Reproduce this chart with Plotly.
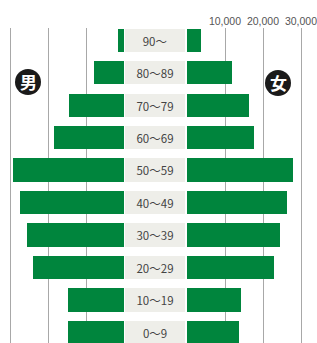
import plotly.graph_objects as go

ages = ["0～9", "10～19", "20～29", "30～39", "40～49", "50～59", "60～69", "70～79", "80～89", "90～"]
male = [14700, 14800, 23900, 25400, 27500, 29300, 18400, 14400, 7800, 1600]
female = [13700, 14100, 23000, 24600, 26200, 28000, 17600, 16400, 11800, 3800]
tick_vals = [10000, 20000, 30000]
tick_text = ["10,000", "20,000", "30,000"]

W, H = 317, 343
PX_PER = 38 / 10000
idx = list(range(len(ages)))
green = "#00853d"

fig = go.Figure()
fig.add_trace(go.Bar(y=idx, x=male, orientation="h", xaxis="x", yaxis="y",
                     marker=dict(color=green, line=dict(width=0)), width=0.72,
                     hoverinfo="skip"))
fig.add_trace(go.Bar(y=idx, x=[1] * len(ages), orientation="h", xaxis="x2", yaxis="y",
                     marker=dict(color="#eeeee9", line=dict(width=0)), width=0.72,
                     text=ages, textposition="inside", insidetextanchor="middle",
                     textfont=dict(family="Noto Sans CJK JP", size=11.5, color="#444444"),
                     hoverinfo="skip"))
fig.add_trace(go.Bar(y=idx, x=female, orientation="h", xaxis="x3", yaxis="y",
                     marker=dict(color=green, line=dict(width=0)), width=0.72,
                     hoverinfo="skip"))

grid = dict(showgrid=True, gridcolor="#a8a8a8", gridwidth=1, zeroline=False,
            tickvals=tick_vals, ticks="", showline=False)

fig.update_layout(
    width=W, height=H, margin=dict(l=0, r=0, t=0, b=0),
    paper_bgcolor="white", plot_bgcolor="white", showlegend=False,
    xaxis=dict(domain=[0, 124 / W], range=[124 / PX_PER, 0], anchor="y",
               showticklabels=False, **grid),
    xaxis2=dict(domain=[125 / W, 185 / W], range=[0, 1], anchor="y",
                showgrid=False, zeroline=False, showticklabels=False),
    xaxis3=dict(domain=[187 / W, 1], range=[0, 130 / PX_PER], anchor="y", side="top",
                ticktext=tick_text, showticklabels=True, ticklabeloverflow="allow",
                tickfont=dict(family="Liberation Sans", size=10.5, color="#555555"),
                **grid),
    yaxis=dict(domain=[0, 315 / H], range=[-0.323, 9.378], showgrid=False,
               zeroline=False, showticklabels=False),
    bargap=0,
)

# gender badges
for cx, cy, label in [(28, 82, "男"), (278, 83, "女")]:
    r = 13
    fig.add_shape(type="circle", xref="paper", yref="paper",
                  x0=(cx - r) / W, x1=(cx + r) / W,
                  y0=1 - (cy + r) / H, y1=1 - (cy - r) / H,
                  fillcolor="#1a1a1a", line=dict(width=0), layer="below")
    fig.add_annotation(x=cx / W, y=1 - cy / H, xref="paper", yref="paper",
                       xanchor="center", yanchor="middle",
                       text="<b>" + label + "</b>", showarrow=False,
                       font=dict(family="Noto Sans CJK JP", size=17, color="white"))

fig.write_html("out.html", config={"displayModeBar": False},
               post_script="document.body.style.margin='0';document.body.style.overflow='hidden';")
